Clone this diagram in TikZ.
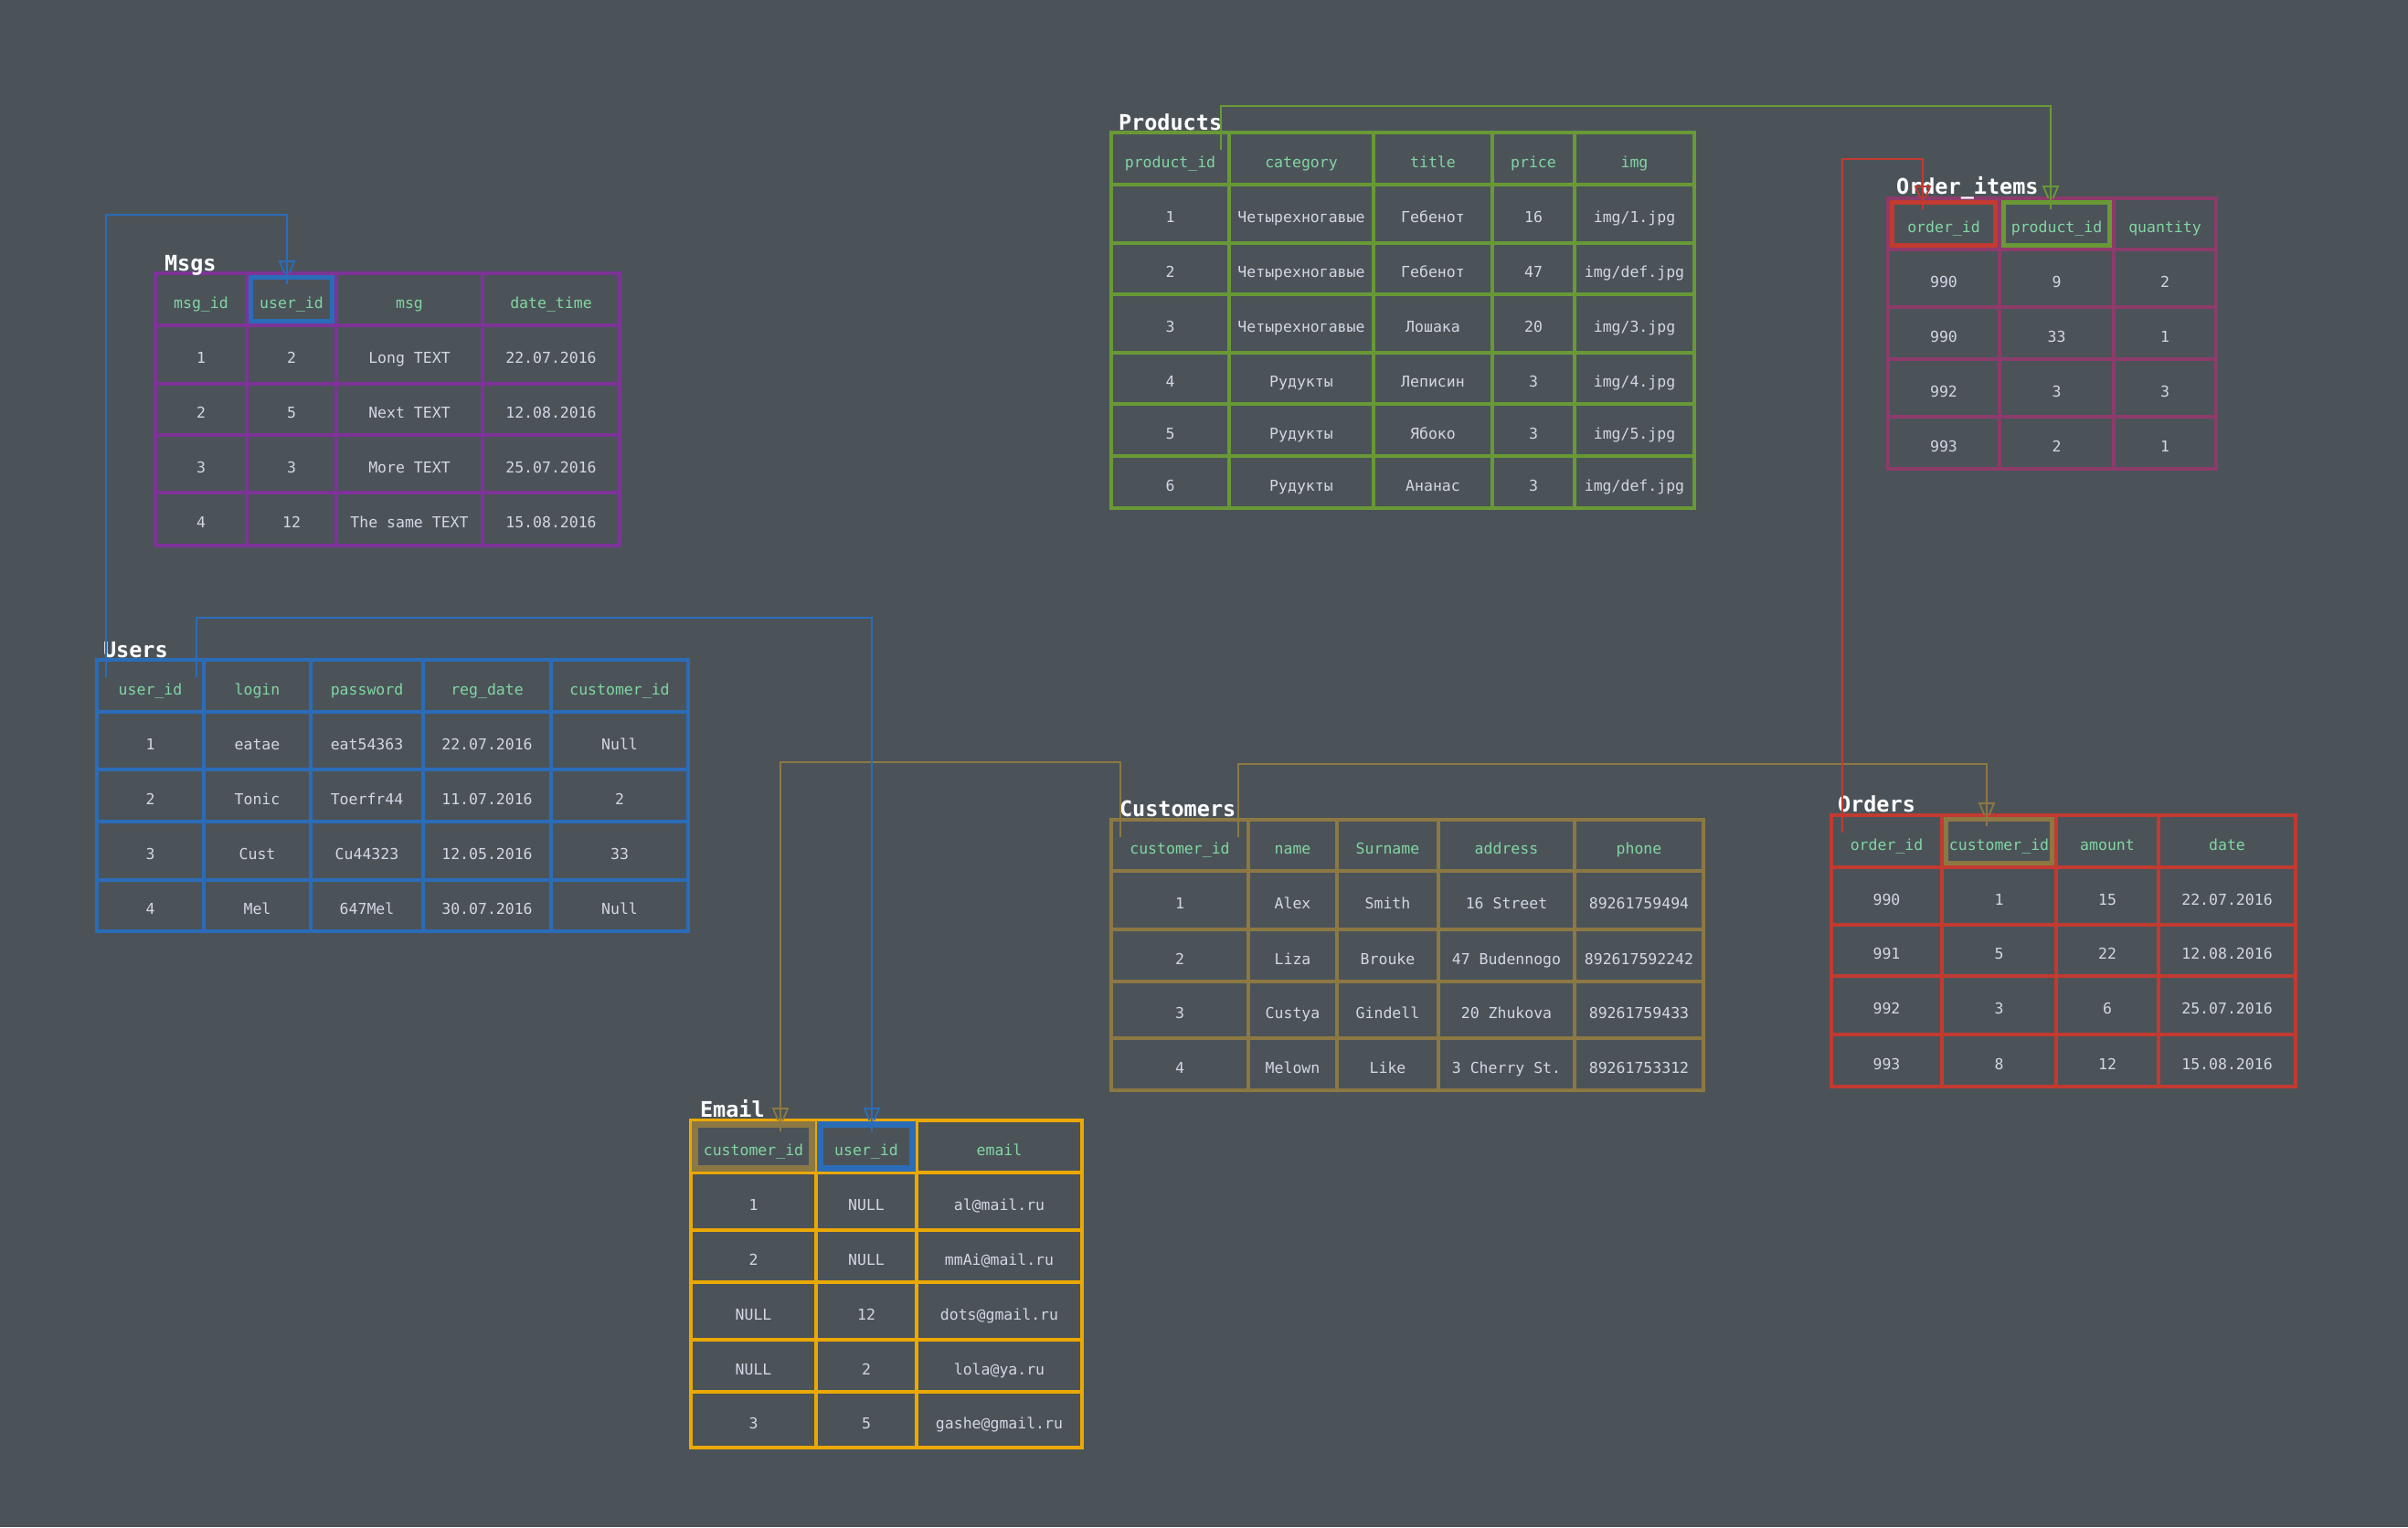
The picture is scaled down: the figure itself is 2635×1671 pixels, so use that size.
\documentclass[tikz,border=0pt]{standalone}
\usepackage{fontspec}
\setmainfont{DejaVu Sans Mono}
\usetikzlibrary{calc}
\definecolor{bg}{HTML}{4B5359}
\definecolor{hdrc}{HTML}{82D6A2}
\definecolor{datac}{HTML}{D3D7E3}
\definecolor{msgc}{HTML}{7D3397}
\definecolor{usrc}{HTML}{2B6CB8}
\definecolor{prodc}{HTML}{699936}
\definecolor{oic}{HTML}{8D3B6B}
\definecolor{ordc}{HTML}{C23A30}
\definecolor{custc}{HTML}{8C7843}
\definecolor{emailc}{HTML}{EAA800}
\newcommand\cellfont{\fontsize{16.5}{19}\selectfont}
\newcommand\titlefont{\fontsize{23.5}{26}\selectfont\bfseries}
\newcommand\trow[6]{%
  \foreach \t [count=\c from 0] in {#6} {%
    \pgfmathsetmacro\xa{\colx[\c]}%
    \pgfmathsetmacro\xb{\colx[\c+1]}%
    \node[cell,#5,minimum width={(\xb-\xa)*1pt},minimum height={(#4-#3)*1pt}] (#1-#2-\c) at ({(\xa+\xb)/2},{(#3+#4)/2}) {\t};
  }%
}
\newcommand\fk[4]{%
  \draw[conn,#1] (#2) |- (#4 |- #3) -- ($(#4)+(0,12)$);
  \draw[conn,#1] ($(#4)+(-2.5,0)$) -- ++(-5.5,-13) -- ++(16,0) -- ++(-5.5,13);
}
\newcommand\hl[3]{%
  \draw[#2,line width=#3] ($(#1.north west)+(4.5,4.5)$) rectangle ($(#1.south east)+(-4.5,-4.5)$);
}
\begin{document}
\begin{tikzpicture}[x=1pt,y=-1pt,
  cell/.style={draw, line width=3.2pt, outer sep=0pt, inner sep=0pt, font=\cellfont, text=datac, text height=19pt, text depth=0pt},
  hdr/.style={text=hdrc},
  ttl/.style={anchor=base west, inner sep=0pt, outer sep=0pt, text=white, font=\titlefont},
  conn/.style={line width=1.8pt, line join=miter},
]
\useasboundingbox (0,0) rectangle (2635,1671);
\fill[bg] (0,0) rectangle (2635,1671);

% ---------- Msgs
\def\colx{{170,270,368,528,678}}
\trow{msgs}{0}{299}{356}{hdr,draw=msgc}{msg\_id,user\_id,msg,date\_time}
\trow{msgs}{1}{356}{420}{draw=msgc}{1,2,Long TEXT,22.07.2016}
\trow{msgs}{2}{420}{476}{draw=msgc}{2,5,Next TEXT,12.08.2016}
\trow{msgs}{3}{476}{539}{draw=msgc}{3,3,More TEXT,25.07.2016}
\trow{msgs}{4}{539}{597}{draw=msgc}{4,12,The same TEXT,15.08.2016}

% ---------- Users
\def\colx{{106,223,340,463,603,753}}
\trow{users}{0}{722}{779}{hdr,draw=usrc}{user\_id,login,password,reg\_date,customer\_id}
\trow{users}{1}{779}{842}{draw=usrc}{1,eatae,eat54363,22.07.2016,Null}
\trow{users}{2}{842}{899}{draw=usrc}{2,Tonic,Toerfr44,11.07.2016,2}
\trow{users}{3}{899}{963}{draw=usrc}{3,Cust,Cu44323,12.05.2016,33}
\trow{users}{4}{963}{1019}{draw=usrc}{4,Mel,647Mel,30.07.2016,Null}

% ---------- Products
\def\colx{{1216,1345,1503,1633,1723,1854}}
\trow{prod}{0}{145}{202}{hdr,draw=prodc}{product\_id,category,title,price,img}
\trow{prod}{1}{202}{266}{draw=prodc}{1,Четырехногавые,Гебенот,16,img/1.jpg}
\trow{prod}{2}{266}{322}{draw=prodc}{2,Четырехногавые,Гебенот,47,img/def.jpg}
\trow{prod}{3}{322}{386}{draw=prodc}{3,Четырехногавые,Лошака,20,img/3.jpg}
\trow{prod}{4}{386}{442}{draw=prodc}{4,Рудукты,Леписин,3,img/4.jpg}
\trow{prod}{5}{442}{499}{draw=prodc}{5,Рудукты,Ябоко,3,img/5.jpg}
\trow{prod}{6}{499}{556}{draw=prodc}{6,Рудукты,Ананас,3,img/def.jpg}

% ---------- Order_items
\def\colx{{2066,2188,2313,2425}}
\trow{oi}{0}{217}{273}{hdr,draw=oic}{order\_id,product\_id,quantity}
\trow{oi}{1}{273}{336}{draw=oic}{990,9,2}
\trow{oi}{2}{336}{393}{draw=oic}{990,33,1}
\trow{oi}{3}{393}{456}{draw=oic}{992,3,3}
\trow{oi}{4}{456}{513}{draw=oic}{993,2,1}

% ---------- Customers
\def\colx{{1216,1366,1463,1574,1723,1864}}
\trow{cust}{0}{897}{953}{hdr,draw=custc}{customer\_id,name,Surname,address,phone}
\trow{cust}{1}{953}{1017}{draw=custc}{1,Alex,Smith,16 Street,89261759494}
\trow{cust}{2}{1017}{1074}{draw=custc}{2,Liza,Brouke,47 Budennogo,892617592242}
\trow{cust}{3}{1074}{1136}{draw=custc}{3,Custya,Gindell,20 Zhukova,89261759433}
\trow{cust}{4}{1136}{1193}{draw=custc}{4,Melown,Like,3 Cherry St.,89261753312}

% ---------- Orders
\def\colx{{2004,2125,2250,2362,2512}}
\trow{ord}{0}{892}{949}{hdr,draw=ordc}{order\_id,customer\_id,amount,date}
\trow{ord}{1}{949}{1012}{draw=ordc}{990,1,15,22.07.2016}
\trow{ord}{2}{1012}{1068}{draw=ordc}{991,5,22,12.08.2016}
\trow{ord}{3}{1068}{1132}{draw=ordc}{992,3,6,25.07.2016}
\trow{ord}{4}{1132}{1189}{draw=ordc}{993,8,12,15.08.2016}

% ---------- Email
\def\colx{{756,893,1003,1184}}
\trow{email}{0}{1226}{1283}{hdr,draw=emailc}{customer\_id,user\_id,email}
\trow{email}{1}{1283}{1346}{draw=emailc}{1,NULL,al@mail.ru}
\trow{email}{2}{1346}{1403}{draw=emailc}{2,NULL,mmAi@mail.ru}
\trow{email}{3}{1403}{1466}{draw=emailc}{NULL,12,dots@gmail.ru}
\trow{email}{4}{1466}{1523}{draw=emailc}{NULL,2,lola@ya.ru}
\trow{email}{5}{1523}{1584}{draw=emailc}{3,5,gashe@gmail.ru}

% ---------- titles
\node[ttl] (tmsgs) at (180,296) {Msgs};
\node[ttl] (tusers) at (113,719) {Users};
\node[ttl] (tprod) at (1224,142) {Products};
\node[ttl] (toi) at (2075,212) {Order\_items};
\node[ttl] (tcust) at (1225,893) {Customers};
\node[ttl] (tord) at (2011,888) {Orders};
\node[ttl] (temail) at (766,1222) {Email};

% ---------- highlighted key cells
\hl{msgs-0-1}{usrc}{5pt}
\hl{oi-0-0}{ordc}{5pt}
\hl{oi-0-1}{prodc}{5pt}
\hl{ord-0-1}{custc}{5pt}
\hl{email-0-0}{custc}{7.5pt}
\hl{email-0-1}{usrc}{7.5pt}

% ---------- connectors
\coordinate (lv1) at (0,235);
\coordinate (lv2) at (0,676);
\coordinate (lv3) at (0,834);
\coordinate (lv4) at (0,836);
\coordinate (lv5) at (0,174);
\coordinate (lv6) at (0,116);
\coordinate (s1) at ($(users-0-0.north west)+(10,19)$);
\coordinate (e1) at ($(msgs-0-1.north west)+(44,0)$);
\coordinate (s2) at ($(users-0-0.north east)+(-8,19)$);
\coordinate (e2) at ($(email-0-1.north west)+(61,0)$);
\coordinate (s3) at ($(cust-0-0.north west)+(10,19)$);
\coordinate (e3) at ($(email-0-0.north west)+(98,0)$);
\coordinate (s4) at ($(cust-0-0.north east)+(-11,19)$);
\coordinate (e4) at ($(ord-0-1.north west)+(49,0)$);
\coordinate (s5) at ($(ord-0-0.north west)+(12,19)$);
\coordinate (e5) at ($(oi-0-0.north west)+(38,0)$);
\coordinate (s6) at ($(prod-0-0.north east)+(-9,19)$);
\coordinate (e6) at ($(oi-0-1.north west)+(56,0)$);

\fk{custc}{s3}{lv3}{e3}
\fk{custc}{s4}{lv4}{e4}
\fk{usrc}{s1}{lv1}{e1}
\fk{usrc}{s2}{lv2}{e2}
\fk{ordc}{s5}{lv5}{e5}
\fk{prodc}{s6}{lv6}{e6}
\end{tikzpicture}
\end{document}
